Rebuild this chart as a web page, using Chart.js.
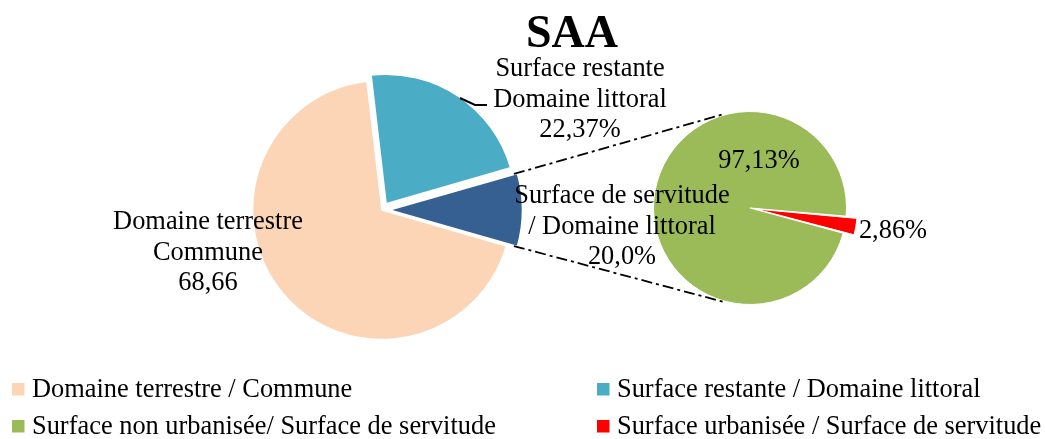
<!DOCTYPE html>
<html>
<head>
<meta charset="utf-8">
<script src="https://cdn.jsdelivr.net/npm/chart.js@4/dist/chart.umd.min.js"></script>
<style>
  html, body { margin: 0; padding: 0; background: #fff; }
  #wrap { position: relative; width: 1045px; height: 439px; background: #fff; }
  #wrap canvas { position: absolute; left: 0; top: 0; }
</style>
</head>
<body>
<div id="wrap">
  <canvas id="mainPie" width="1045" height="439"></canvas>
  <canvas id="subPie" width="1045" height="439"></canvas>
</div>
<script>
// ---- data ----
const chartTitle = "SAA";
const mainCategories = ["Domaine terrestre / Commune", "Surface restante / Domaine littoral", "Surface de servitude / Domaine littoral"];
const mainValues = [68.66, 22.37, 8.97];
const mainLabels = [["Domaine terrestre", "Commune", "68,66"], ["Surface restante", "Domaine littoral", "22,37%"], ["Surface de servitude", "/ Domaine littoral", "20,0%"]];
const subCategories = ["Surface non urbanisée/ Surface de servitude", "Surface urbanisée / Surface de servitude"];
const subValues = [97.13, 2.86];
const subLabels = [["97,13%"], ["2,86%"]];
const legendItems = ["Domaine terrestre / Commune", "Surface restante / Domaine littoral", "Surface non urbanisée/ Surface de servitude", "Surface urbanisée / Surface de servitude"];

// ---- styles ----
const mainColors = ["#FBD5B5", "#4BACC6", "#376092"];
const subColors = ["#9BBB59", "#FF0000"];
const legendColors = ["#FBD5B5", "#4BACC6", "#9BBB59", "#FF0000"];
const FONT = "'Liberation Serif', 'Times New Roman', serif";
const FS = 26.4;

const total = mainValues.reduce((a, b) => a + b, 0);
const otherDeg = mainValues[2] / total * 360;
const mainRotation = 90 + otherDeg / 2; // "other" slice centred on the right horizontal
const subTotal = subValues.reduce((a, b) => a + b, 0);
const redDeg = subValues[1] / subTotal * 360;
const subRotation = 100 + redDeg / 2;

const mainChart = new Chart(document.getElementById('mainPie'), {
  type: 'pie',
  data: {
    labels: mainCategories,
    datasets: [{
      data: mainValues,
      backgroundColor: mainColors,
      borderColor: '#ffffff',
      borderWidth: 1.5,
      offset: [0, 30, 30]
    }]
  },
  options: {
    responsive: false,
    animation: false,
    rotation: mainRotation,
    radius: 129.5,
    layout: { padding: { left: 252, right: 533, top: 80, bottom: 99 } },
    plugins: { legend: { display: false }, tooltip: { enabled: false }, title: { display: false } }
  }
});

function arcPoint(el, angle, r) {
  return { x: el.x + Math.cos(angle) * r, y: el.y + Math.sin(angle) * r };
}

const overlayPlugin = {
  id: 'overlay',
  afterDraw(chart) {
    const ctx = chart.ctx;
    const mMeta = mainChart.getDatasetMeta(0);
    const sMeta = chart.getDatasetMeta(0);
    const other = mMeta.data[2];
    const sEl = sMeta.data[0];
    ctx.save();
    // connectors
    const oOff = (other.options.offset || 0) / 4;
    const mid = (other.startAngle + other.endAngle) / 2;
    const dx = Math.cos(mid) * oOff, dy = Math.sin(mid) * oOff;
    const p1 = arcPoint(other, other.startAngle, other.outerRadius);
    const p2 = arcPoint(other, other.endAngle, other.outerRadius);
    const tA = -Math.PI / 2 - 16 * Math.PI / 180;
    const bA = Math.PI / 2 + 16 * Math.PI / 180;
    const q1 = arcPoint(sEl, tA, sEl.outerRadius + 1);
    const q2 = arcPoint(sEl, bA, sEl.outerRadius + 1);
    ctx.strokeStyle = '#000';
    ctx.lineWidth = 1.8;
    ctx.setLineDash([11, 4, 3, 4]);
    ctx.beginPath();
    ctx.moveTo(p1.x + dx, p1.y + dy); ctx.lineTo(q1.x, q1.y);
    ctx.moveTo(p2.x + dx, p2.y + dy); ctx.lineTo(q2.x, q2.y);
    ctx.stroke();
    ctx.setLineDash([]);

    // leader line for teal label
    const teal = mMeta.data[1];
    ctx.lineWidth = 2;
    ctx.beginPath();
    ctx.moveTo(teal.x + 78, teal.y - 112);
    ctx.lineTo(teal.x + 93, teal.y - 105);
    ctx.lineTo(teal.x + 105, teal.y - 105);
    ctx.stroke();

    // title
    ctx.fillStyle = '#000';
    ctx.textAlign = 'center';
    ctx.textBaseline = 'alphabetic';
    ctx.font = "bold 46px " + FONT;
    ctx.fillText(chartTitle, 572, 47);

    // data labels (positions relative to pie centres)
    ctx.font = FS + "px " + FONT;
    const mc = mMeta.data[0];
    const mainLabelPos = [[-174, 19], [198, -134], [240, -7]];
    const lh = 30.5;
    mainLabels.forEach((lines, i) => {
      lines.forEach((t, j) => ctx.fillText(t, mc.x + mainLabelPos[i][0], mc.y + mainLabelPos[i][1] + j * lh));
    });
    const subLabelPos = [[9, -40], [143, 30]];
    subLabels.forEach((lines, i) => {
      lines.forEach((t, j) => ctx.fillText(t, sEl.x + subLabelPos[i][0], sEl.y + subLabelPos[i][1] + j * lh));
    });

    // legend
    ctx.textAlign = 'left';
    const colX = [12, 597];
    const rowY = [383, 420];
    legendItems.forEach((t, i) => {
      const cx = colX[i % 2], cy = rowY[Math.floor(i / 2)];
      ctx.fillStyle = legendColors[i];
      ctx.fillRect(cx, cy, 12.5, 12.5);
      ctx.fillStyle = '#000';
      ctx.fillText(t, cx + 20, cy + 14);
    });
    ctx.restore();
  }
};

const subChart = new Chart(document.getElementById('subPie'), {
  type: 'pie',
  data: {
    labels: subCategories,
    datasets: [{
      data: subValues,
      backgroundColor: subColors,
      borderColor: '#ffffff',
      borderWidth: 1,
      offset: [0, 24]
    }]
  },
  options: {
    responsive: false,
    animation: false,
    rotation: subRotation,
    radius: 96.5,
    layout: { padding: { left: 650, right: 195, top: 108, bottom: 131 } },
    plugins: { legend: { display: false }, tooltip: { enabled: false }, title: { display: false } }
  },
  plugins: [overlayPlugin]
});
</script>
</body>
</html>
